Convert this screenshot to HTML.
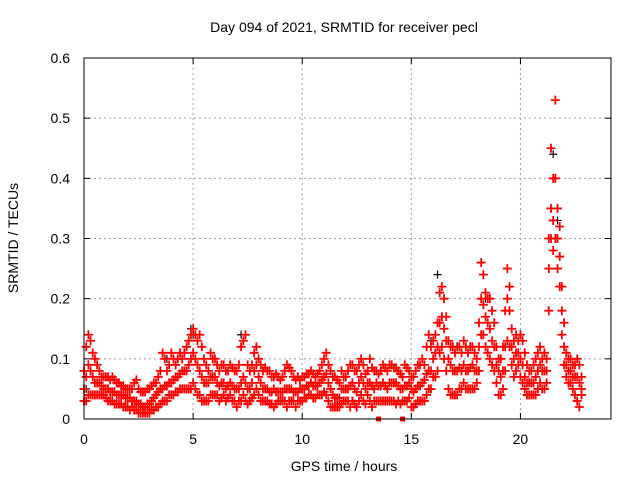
<!DOCTYPE html>
<html><head><meta charset="utf-8"><style>
body{margin:0;background:#fff}
svg{display:block;font-family:"Liberation Sans",sans-serif}
</style></head><body>
<svg id="c" width="640" height="480">
<text x="344" y="32" font-size="14" text-anchor="middle">Day 094 of 2021, SRMTID for receiver pecl</text>
<text x="344" y="471" font-size="14" text-anchor="middle">GPS time / hours</text>
<text transform="translate(18,238) rotate(-90)" font-size="14" text-anchor="middle">SRMTID / TECUs</text>
<g id="grid"></g><g id="black"></g><g id="red"></g><g id="axes"></g>
</svg>
<script>
const xTicks=[0,5,10,15,20];
const yTicks=[0,0.1,0.2,0.3,0.4,0.5,0.6];
const yTickLabels=["0","0.1","0.2","0.3","0.4","0.5","0.6"];
const redStart=0, redStep=0.1;
const redHi=[.08,.12,.14,.13,.11,.10,.09,.08,.07,.07,
.07,.07,.065,.07,.065,.06,.06,.055,.055,.05,
.05,.05,.05,.06,.065,.05,.045,.045,.045,.05,
.05,.055,.06,.06,.07,.08,.11,.10,.08,.09,
.11,.10,.09,.10,.11,.10,.11,.12,.13,.14,
.15,.14,.13,.14,.12,.10,.09,.08,.11,.10,
.10,.09,.08,.09,.09,.08,.08,.09,.085,.08,
.08,.09,.12,.13,.14,.09,.08,.09,.11,.12,
.10,.09,.08,.085,.08,.08,.07,.07,.075,.07,
.065,.07,.08,.09,.085,.08,.07,.065,.07,.065,
.07,.07,.075,.075,.08,.075,.07,.075,.08,.09,
.10,.11,.09,.08,.07,.07,.065,.06,.08,.07,
.07,.08,.09,.09,.08,.08,.09,.10,.09,.075,
.08,.10,.085,.08,.08,.075,.08,.09,.085,.08,
.09,.09,.085,.085,.08,.075,.07,.09,.085,.08,
.07,.07,.08,.09,.09,.10,.09,.12,.14,.12,
.13,.14,.16,.21,.22,.20,.17,.13,.12,.12,
.11,.12,.12,.11,.13,.12,.11,.12,.12,.11,
.10,.16,.26,.24,.21,.20,.20,.18,.16,.12,
.10,.10,.12,.18,.25,.22,.15,.13,.14,.13,
.14,.13,.11,.09,.08,.08,.09,.10,.11,.12,
.10,.11,.10,.30,.45,.40,.53,.35,.32,.22,
.16,.11,.10,.10,.09,.09,.10,.09,.07];
const redMid=[.05,.07,.09,.08,.07,.06,.06,.06,.055,.05,
.05,.05,.045,.045,.045,.04,.04,.04,.04,.035,
.035,.035,.03,.03,.03,.025,.025,.02,.02,.025,
.025,.03,.035,.04,.045,.05,.05,.055,.055,.06,
.06,.065,.07,.07,.075,.08,.08,.08,.09,.10,
.11,.10,.09,.08,.07,.06,.06,.06,.07,.07,
.07,.06,.055,.06,.06,.05,.055,.06,.055,.05,
.05,.05,.06,.07,.06,.05,.05,.06,.08,.09,
.07,.06,.05,.05,.05,.045,.045,.05,.045,.045,
.045,.045,.05,.05,.05,.05,.045,.045,.045,.05,
.05,.05,.055,.055,.06,.055,.055,.055,.06,.065,
.07,.075,.06,.05,.04,.035,.035,.035,.05,.05,
.05,.05,.055,.06,.05,.045,.06,.07,.06,.05,
.06,.06,.055,.05,.06,.055,.055,.06,.055,.05,
.06,.06,.06,.06,.055,.05,.05,.055,.055,.06,
.05,.045,.05,.055,.055,.06,.065,.075,.08,.08,
.10,.11,.12,.16,.17,.15,.13,.10,.09,.08,
.08,.08,.085,.08,.09,.08,.08,.085,.09,.08,
.08,.12,.20,.19,.17,.16,.15,.13,.12,.09,
.08,.07,.08,.12,.20,.18,.12,.10,.11,.11,
.10,.09,.07,.06,.06,.06,.06,.07,.08,.09,
.08,.08,.08,.25,.35,.33,.40,.30,.27,.18,
.12,.09,.08,.08,.07,.07,.07,.06,.05];
const redLo=[.03,.03,.04,.04,.04,.04,.04,.04,.04,.04,
.035,.03,.03,.03,.025,.025,.025,.025,.02,.02,
.02,.015,.02,.015,.015,.01,.01,.01,.01,.01,
.01,.015,.015,.02,.02,.025,.03,.03,.03,.04,
.04,.04,.045,.045,.05,.05,.05,.05,.05,.05,
.06,.05,.04,.04,.03,.03,.03,.03,.04,.04,
.04,.04,.03,.035,.04,.03,.035,.04,.03,.03,
.02,.03,.03,.04,.03,.025,.03,.035,.04,.05,
.04,.03,.03,.03,.03,.025,.025,.02,.025,.03,
.03,.03,.03,.02,.03,.03,.03,.02,.03,.03,
.03,.035,.035,.04,.04,.035,.035,.04,.04,.04,
.045,.04,.03,.02,.02,.02,.02,.02,.025,.03,
.03,.03,.02,.03,.025,.02,.03,.04,.03,.025,
.04,.03,.02,.03,.03,.03,.03,.03,.03,.03,
.03,.03,.03,.025,.03,.025,.03,.03,.03,.035,
.02,.02,.025,.03,.03,.03,.03,.04,.05,.05,
.07,.07,.08,.11,.12,.10,.08,.05,.04,.04,
.04,.04,.05,.05,.06,.05,.05,.05,.05,.05,
.06,.08,.14,.14,.12,.11,.10,.09,.08,.06,
.04,.04,.05,.08,.13,.12,.09,.07,.08,.09,
.07,.06,.05,.04,.04,.04,.04,.04,.05,.06,
.05,.05,.06,.18,.30,.28,.30,.25,.22,.14,
.09,.07,.06,.06,.05,.04,.03,.02,.04];
const blackT=[0.1,3.8,4.9,5.0,7.2,15.9,16.2,18.4,19.6,21.5,21.7,22.3];
const blackV=[.05,.10,.15,.14,.14,.13,.24,.20,.15,.44,.33,.08];
const flagT=[13.5,14.6];
const flagV=[0,0];

const L=84,R=611,T=58,B=419,XMAX=24.15,YMAX=0.6;
const sx=v=>L+(R-L)*v/XMAX, sy=v=>B-(B-T)*v/YMAX;
const NS="http://www.w3.org/2000/svg";
function mk(tag,attrs,parent){const e=document.createElementNS(NS,tag);for(const k in attrs)e.setAttribute(k,attrs[k]);parent.appendChild(e);return e;}
const grid=document.getElementById('grid'),axes=document.getElementById('axes');
yTicks.forEach((v,i)=>{
  if(v>0&&v<YMAX){const g=mk('line',{x1:L,x2:R,y1:sy(v),y2:sy(v),stroke:'#a0a0a0','stroke-dasharray':'2,3'},grid);
  
  }
  mk('line',{x1:L,x2:L+6,y1:sy(v),y2:sy(v),stroke:'#000'},axes);
  mk('line',{x1:R,x2:R-6,y1:sy(v),y2:sy(v),stroke:'#000'},axes);
  const t=mk('text',{x:70,y:sy(v)+5,'font-size':14,'text-anchor':'end'},axes);t.textContent=yTickLabels[i];
  
  
});
xTicks.forEach(v=>{
  if(v>0){const g=mk('line',{x1:sx(v),x2:sx(v),y1:T,y2:B,stroke:'#a0a0a0','stroke-dasharray':'2,3'},grid);
  
  }
  mk('line',{x1:sx(v),x2:sx(v),y1:B,y2:B-6,stroke:'#000'},axes);
  mk('line',{x1:sx(v),x2:sx(v),y1:T,y2:T+6,stroke:'#000'},axes);
  const t=mk('text',{x:sx(v),y:444,'font-size':14,'text-anchor':'middle'},axes);t.textContent=String(v);
  
  
});
const border=mk('rect',{x:L,y:T,width:R-L,height:B-T,fill:'none',stroke:'#000','stroke-width':1},axes);


function plus(x,y,col,g,h,w){return mk('path',{d:`M${x-h},${y}h${2*h}M${x},${y-h}v${2*h}`,stroke:col,'stroke-width':w,fill:'none'},g);}
const bg=document.getElementById('black');
blackT.forEach((t,i)=>{const p=plus(sx(t),sy(blackV[i]),'#000',bg,4,1.2);
  
  });
const rg=document.getElementById('red');
[redLo,redMid,redHi].forEach(arr=>arr.forEach((v,i)=>{
  const p=plus(sx(redStart+i*redStep),sy(v),'#f00',rg,4.5,1.8);
  
  }));
flagT.forEach((t,i)=>{const r=mk('rect',{x:sx(t)-2.5,y:sy(flagV[i])-2.5,width:5,height:5,fill:'#f00'},rg);
  
  });
</script>
</body></html>
